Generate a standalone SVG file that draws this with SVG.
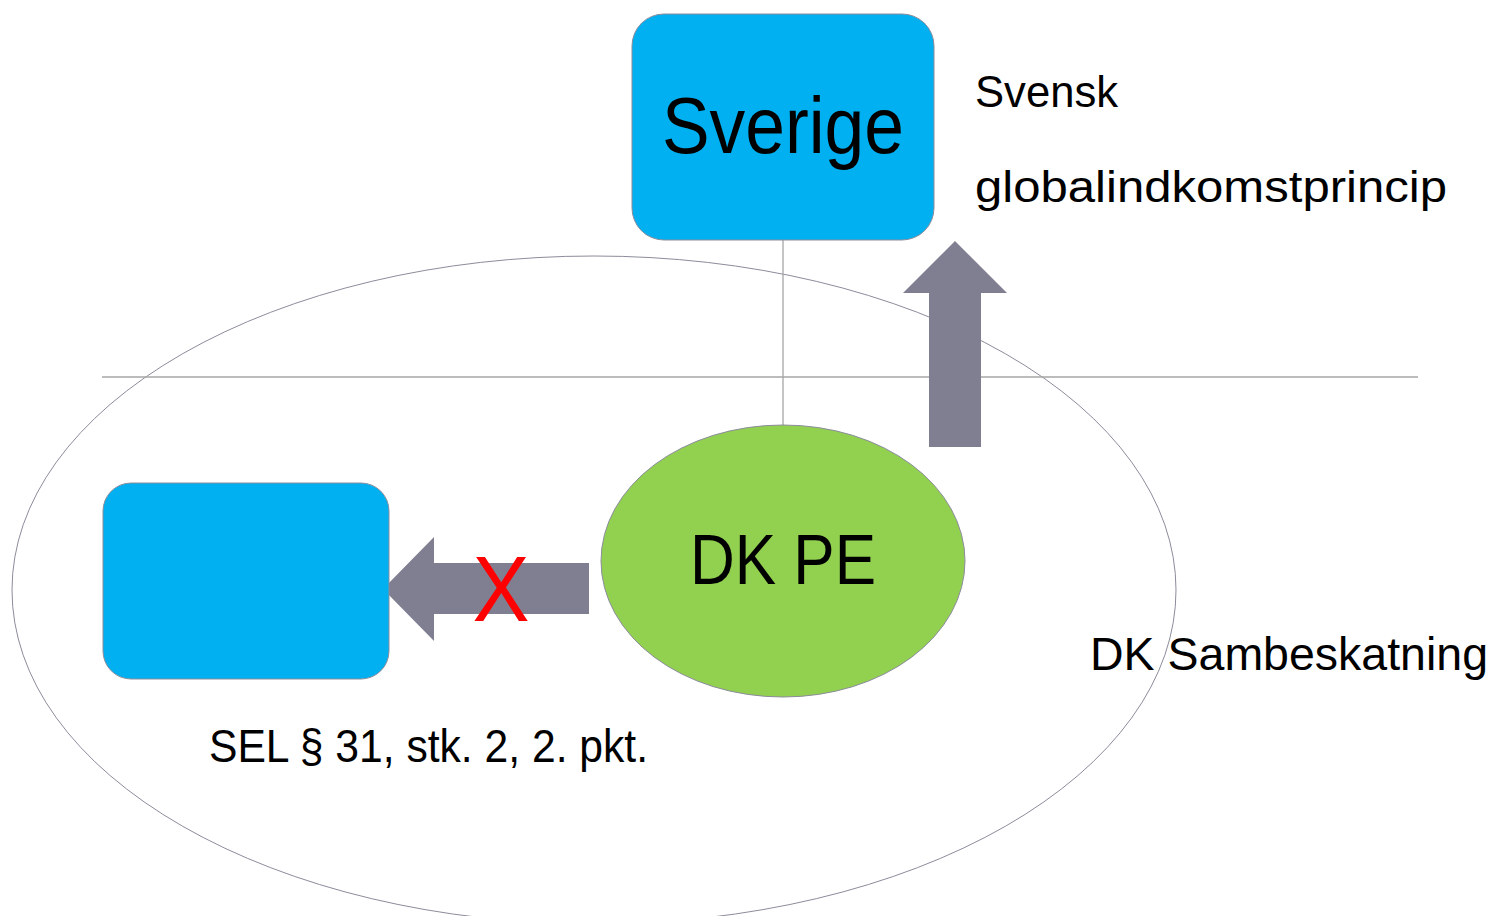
<svg xmlns="http://www.w3.org/2000/svg" width="1492" height="916" viewBox="0 0 1492 916">
<style>
.t{font-family:"Liberation Sans","DejaVu Sans",sans-serif;fill:#000;}
.box{fill:#00b0f0;stroke:#8c8c9c;stroke-width:1;}
.arr{fill:#807f91;}
.thin{fill:none;stroke:#8c8c9c;stroke-width:1;}
</style>
<rect width="1492" height="916" fill="#fff"/>
<g id="region">
<ellipse cx="594" cy="590" rx="582" ry="334" class="thin"/>
</g>
<g id="connectors">
<line x1="102" y1="377" x2="1418" y2="377" stroke="#a6a6a6" stroke-width="1.3"/>
<line x1="783" y1="240" x2="783" y2="425" stroke="#a6a6a6" stroke-width="1.3"/>
<polygon class="arr" points="383,589 434,537 434,563 589,563 589,614 434,614 434,641"/>
<polygon class="arr" points="955,241 1007,293 981,293 981,447 929,447 929,293 903,293"/>
</g>
<g id="sverige">
<rect x="632" y="14" width="302" height="226" rx="32" class="box"/>
<text class="t" x="783" y="153" font-size="80" text-anchor="middle" textLength="242" lengthAdjust="spacingAndGlyphs">Sverige</text>
</g>
<g id="leftbox">
<rect x="103" y="483" width="286" height="196" rx="28" class="box"/>
</g>
<g id="dkpe">
<ellipse cx="783" cy="561" rx="182" ry="136" fill="#92d050" stroke="#8c8c9c" stroke-width="1"/>
<text class="t" x="783" y="584" font-size="71" text-anchor="middle" textLength="186" lengthAdjust="spacingAndGlyphs">DK PE</text>
</g>
<g id="cross">
<text x="501" y="621" font-family="Liberation Sans, sans-serif" font-size="92" fill="#ff0000" text-anchor="middle" textLength="57" lengthAdjust="spacingAndGlyphs">X</text>
</g>
<g id="labels">
<text class="t" x="975" y="107" font-size="44" textLength="143" lengthAdjust="spacingAndGlyphs">Svensk</text>
<text class="t" x="975" y="202" font-size="44" textLength="472" lengthAdjust="spacingAndGlyphs">globalindkomstprincip</text>
<text class="t" x="1090" y="670" font-size="47" textLength="398" lengthAdjust="spacingAndGlyphs">DK Sambeskatning</text>
<text class="t" x="209" y="762" font-size="46" textLength="439" lengthAdjust="spacingAndGlyphs">SEL § 31, stk. 2, 2. pkt.</text>
</g>
</svg>
